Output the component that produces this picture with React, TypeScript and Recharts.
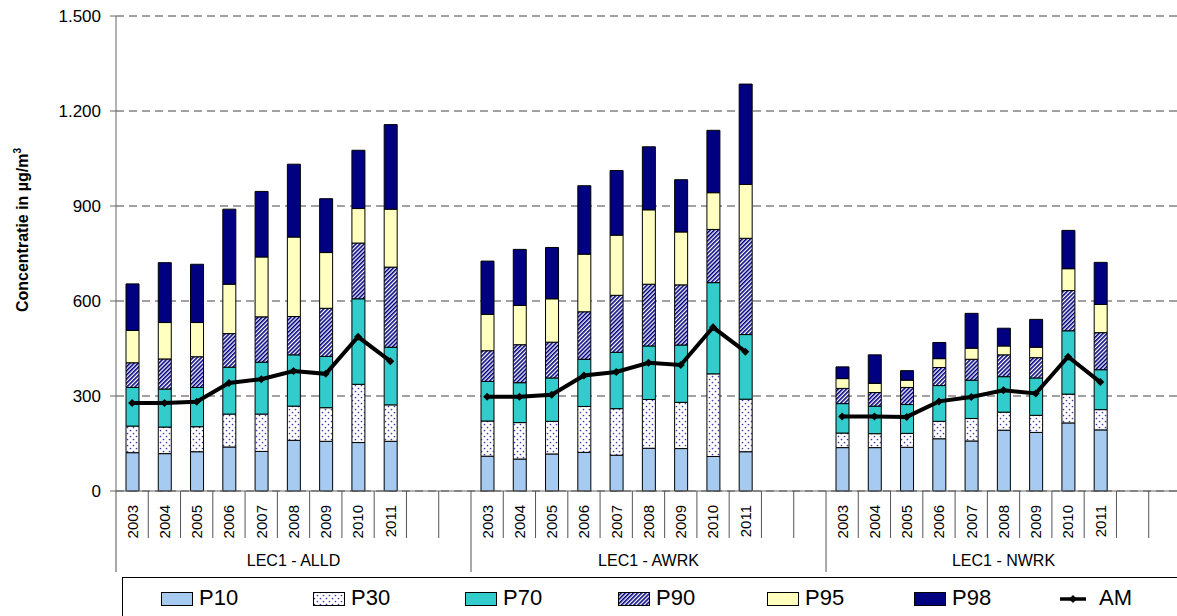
import React from 'react';
import { ComposedChart, Bar, Line, XAxis, YAxis, CartesianGrid, Legend } from 'recharts';

const YEARS = ['2003', '2004', '2005', '2006', '2007', '2008', '2009', '2010', '2011'];
const GROUPS = ['LEC1 - ALLD', 'LEC1 - AWRK', 'LEC1 - NWRK'];
const Y_TICKS = [0, 300, 600, 900, 1200, 1500];

const ALLD_P10 = [121, 118, 124, 139, 125, 160, 157, 153, 157];
const ALLD_P30 = [205, 202, 203, 243, 243, 268, 263, 337, 272];
const ALLD_P70 = [327, 322, 327, 391, 407, 430, 425, 607, 454];
const ALLD_P90 = [405, 417, 424, 497, 550, 551, 577, 783, 707];
const ALLD_P95 = [507, 532, 532, 653, 739, 802, 753, 892, 890];
const ALLD_P98 = [654, 721, 716, 890, 946, 1032, 923, 1076, 1157];
const ALLD_AM = [278, 278, 282, 341, 353, 379, 370, 487, 410];

const AWRK_P10 = [110, 101, 117, 122, 113, 135, 134, 109, 124];
const AWRK_P30 = [221, 216, 220, 267, 260, 289, 280, 370, 290];
const AWRK_P70 = [346, 342, 357, 416, 438, 458, 461, 658, 494];
const AWRK_P90 = [443, 462, 470, 566, 618, 653, 651, 826, 798];
const AWRK_P95 = [558, 586, 607, 748, 808, 888, 818, 942, 968];
const AWRK_P98 = [726, 763, 769, 964, 1012, 1087, 983, 1139, 1285];
const AWRK_AM = [298, 298, 304, 365, 376, 405, 398, 517, 440];

const NWRK_P10 = [137, 137, 138, 165, 158, 192, 185, 215, 193];
const NWRK_P30 = [183, 181, 182, 220, 229, 249, 239, 306, 257];
const NWRK_P70 = [276, 268, 273, 333, 350, 361, 357, 506, 383];
const NWRK_P90 = [324, 311, 327, 390, 416, 430, 421, 633, 500];
const NWRK_P95 = [355, 340, 350, 418, 451, 458, 454, 702, 589];
const NWRK_P98 = [392, 430, 380, 469, 561, 514, 542, 823, 722];
const NWRK_AM = [235, 235, 234, 283, 297, 318, 308, 424, 344];

const SERIES = [
  { p10: ALLD_P10, p30: ALLD_P30, p70: ALLD_P70, p90: ALLD_P90, p95: ALLD_P95, p98: ALLD_P98, am: ALLD_AM },
  { p10: AWRK_P10, p30: AWRK_P30, p70: AWRK_P70, p90: AWRK_P90, p95: AWRK_P95, p98: AWRK_P98, am: AWRK_AM },
  { p10: NWRK_P10, p30: NWRK_P30, p70: NWRK_P70, p90: NWRK_P90, p95: NWRK_P95, p98: NWRK_P98, am: NWRK_AM },
];

const SLOTS_PER_GROUP = 11;

type Row = {
  key: string;
  year: string;
  group: string;
  idx: number;
  d10?: number;
  d30?: number;
  d70?: number;
  d90?: number;
  d95?: number;
  d98?: number;
  am?: number | null;
};

const data: Row[] = [];
GROUPS.forEach((g, gi) => {
  const s = SERIES[gi];
  for (let i = 0; i < SLOTS_PER_GROUP; i++) {
    const idx = gi * SLOTS_PER_GROUP + i;
    if (i < YEARS.length) {
      data.push({
        key: `${g}|${YEARS[i]}`,
        year: YEARS[i],
        group: g,
        idx,
        d10: s.p10[i],
        d30: s.p30[i] - s.p10[i],
        d70: s.p70[i] - s.p30[i],
        d90: s.p90[i] - s.p70[i],
        d95: s.p95[i] - s.p90[i],
        d98: s.p98[i] - s.p95[i],
        am: s.am[i],
      });
    } else {
      data.push({ key: `${g}|blank${i}`, year: '', group: g, idx, am: null });
    }
  }
});
const keyIndex: Record<string, Row> = {};
data.forEach((r) => (keyIndex[r.key] = r));

const FONT = '"Liberation Sans", Arial, sans-serif';
const CHART_W = 1200;
const CHART_H = 616;
const M_TOP = 16;
const M_RIGHT = 19;
const Y_W = 116;
const X_H = 125;
const PLOT_W = CHART_W - Y_W - M_RIGHT;
const PLOT_BOTTOM = CHART_H - X_H;
const BAND = PLOT_W / data.length;

const C_P10 = '#A6CAF0';
const C_P70 = '#33CCCC';
const C_P95 = '#FFFFC0';
const C_P98 = '#000080';
const C_DOT = '#3a3aa8';
const C_STRIPE = '#000080';

const fmt = (v: number) => v.toString().replace(/\B(?=(\d{3})+(?!\d))/g, '.');

function XTick(props: any) {
  const { x, payload } = props;
  const row = keyIndex[payload.value];
  if (!row) return null;
  const i = row.idx % SLOTS_PER_GROUP;
  const left = x - BAND / 2;
  const isGroupStart = i === 0;
  return (
    <g>
      <line x1={left} x2={left} y1={PLOT_BOTTOM} y2={isGroupStart ? 572 : 538} stroke="#555" strokeWidth={1} />
      {row.year && (
        <text
          x={x + 5.4}
          y={505}
          transform={`rotate(-90, ${x + 5.4}, 505)`}
          textAnchor="end"
          fontSize={15}
          fontFamily={FONT}
          fill="#000"
        >
          {row.year}
        </text>
      )}
      {i === 5 && (
        <text x={x} y={566} textAnchor="middle" fontSize={16} fontFamily={FONT} fill="#000">
          {row.group}
        </text>
      )}
    </g>
  );
}

function YTitle() {
  return (
    <text
      x={28}
      y={230}
      transform="rotate(-90, 28, 230)"
      textAnchor="middle"
      fontSize={16}
      fontWeight="bold"
      fontFamily={FONT}
      fill="#000"
    >
      Concentratie in µg/m<tspan dy={-7} fontSize={10}>3</tspan>
    </text>
  );
}

function Diamond(props: any) {
  const { cx, cy, payload } = props;
  if (cx == null || cy == null || payload?.am == null) return null;
  const r = 4;
  return <polygon points={`${cx},${cy - r} ${cx + r},${cy} ${cx},${cy + r} ${cx - r},${cy}`} fill="#000" />;
}

const LEGEND_ITEMS = [
  { name: 'P10', fill: C_P10, left: 38 },
  { name: 'P30', fill: 'url(#pDots)', left: 190 },
  { name: 'P70', fill: C_P70, left: 342 },
  { name: 'P90', fill: 'url(#pStripes)', left: 495 },
  { name: 'P95', fill: C_P95, left: 644 },
  { name: 'P98', fill: C_P98, left: 791 },
];

function LegendContent() {
  return (
    <div style={{ position: 'relative', width: '100%', height: '100%', fontFamily: FONT }}>
      {LEGEND_ITEMS.map((it) => (
        <div key={it.name} style={{ position: 'absolute', left: it.left, top: 0, height: 40 }}>
          <svg width={34} height={20} style={{ position: 'absolute', left: 0, top: 13 }}>
            <rect x={0.5} y={1.5} width={31} height={13} fill={it.fill} stroke="#000" strokeWidth={1} />
          </svg>
          <span style={{ position: 'absolute', left: 38, top: 7, fontSize: 22, lineHeight: '26px', color: '#000' }}>
            {it.name}
          </span>
        </div>
      ))}
      <div style={{ position: 'absolute', left: 937, top: 0, height: 40 }}>
        <svg width={30} height={20} style={{ position: 'absolute', left: 0, top: 11 }}>
          <line x1={0} x2={26} y1={10} y2={10} stroke="#000" strokeWidth={3.5} />
          <polygon points="13,6 17,10 13,14 9,10" fill="#000" />
        </svg>
        <span style={{ position: 'absolute', left: 39, top: 7, fontSize: 22, lineHeight: '26px', color: '#000' }}>
          AM
        </span>
      </div>
    </div>
  );
}

export default function App() {
  return (
    <div style={{ position: 'absolute', left: 0, top: 0, width: 1177, height: 616, overflow: 'hidden', background: '#fff' }}>
      <svg width={0} height={0} style={{ position: 'absolute' }}>
        <defs>
          <pattern id="pDots" width={6} height={6} patternUnits="userSpaceOnUse">
            <rect width={6} height={6} fill="#fff" />
            <circle cx={1.5} cy={1.5} r={0.85} fill={C_DOT} />
            <circle cx={4.5} cy={4.5} r={0.85} fill={C_DOT} />
          </pattern>
          <pattern id="pStripes" width={2.9} height={2.9} patternUnits="userSpaceOnUse" patternTransform="rotate(45)">
            <rect width={2.9} height={2.9} fill="#fff" />
            <rect width={1.6} height={2.9} fill={C_STRIPE} />
          </pattern>
        </defs>
      </svg>
      <ComposedChart
        width={CHART_W}
        height={CHART_H}
        data={data}
        margin={{ top: M_TOP, right: M_RIGHT, left: 0, bottom: 0 }}
        style={{ fontFamily: FONT }}
      >
        <CartesianGrid horizontal vertical={false} stroke="#444" strokeDasharray="8 5" />
        <XAxis
          dataKey="key"
          height={X_H}
          interval={0}
          tickLine={false}
          axisLine={{ stroke: '#666' }}
          tick={(p: any) => <XTick {...p} />}
        />
        <YAxis
          width={Y_W}
          domain={[0, 1500]}
          ticks={Y_TICKS}
          tickFormatter={fmt}
          tickSize={6}
          tickMargin={9}
          tickLine={{ stroke: '#666' }}
          axisLine={{ stroke: '#666' }}
          tick={{ fontSize: 17, fill: '#000', fontFamily: FONT }}
          label={<YTitle />}
          interval={0}
        />
        <Bar dataKey="d10" name="P10" stackId="a" fill={C_P10} stroke="#000" strokeWidth={1} barSize={13} isAnimationActive={false} />
        <Bar dataKey="d30" name="P30" stackId="a" fill="url(#pDots)" stroke="#000" strokeWidth={1} barSize={13} isAnimationActive={false} />
        <Bar dataKey="d70" name="P70" stackId="a" fill={C_P70} stroke="#000" strokeWidth={1} barSize={13} isAnimationActive={false} />
        <Bar dataKey="d90" name="P90" stackId="a" fill="url(#pStripes)" stroke="#000" strokeWidth={1} barSize={13} isAnimationActive={false} />
        <Bar dataKey="d95" name="P95" stackId="a" fill={C_P95} stroke="#000" strokeWidth={1} barSize={13} isAnimationActive={false} />
        <Bar dataKey="d98" name="P98" stackId="a" fill={C_P98} stroke="#000" strokeWidth={1} barSize={13} isAnimationActive={false} />
        <Line
          dataKey="am"
          name="AM"
          type="linear"
          stroke="#000"
          strokeWidth={4}
          dot={(p: any) => <Diamond key={p.key ?? p.index} {...p} />}
          activeDot={false}
          connectNulls={false}
          isAnimationActive={false}
        />
        <Legend
          layout="horizontal"
          verticalAlign="middle"
          align="center"
          content={() => <LegendContent />}
          wrapperStyle={{
            position: 'absolute',
            left: 122,
            top: 577,
            width: 1100,
            height: 60,
            border: '1.5px solid #000',
            boxSizing: 'border-box',
            margin: 0,
          }}
        />
      </ComposedChart>
    </div>
  );
}
